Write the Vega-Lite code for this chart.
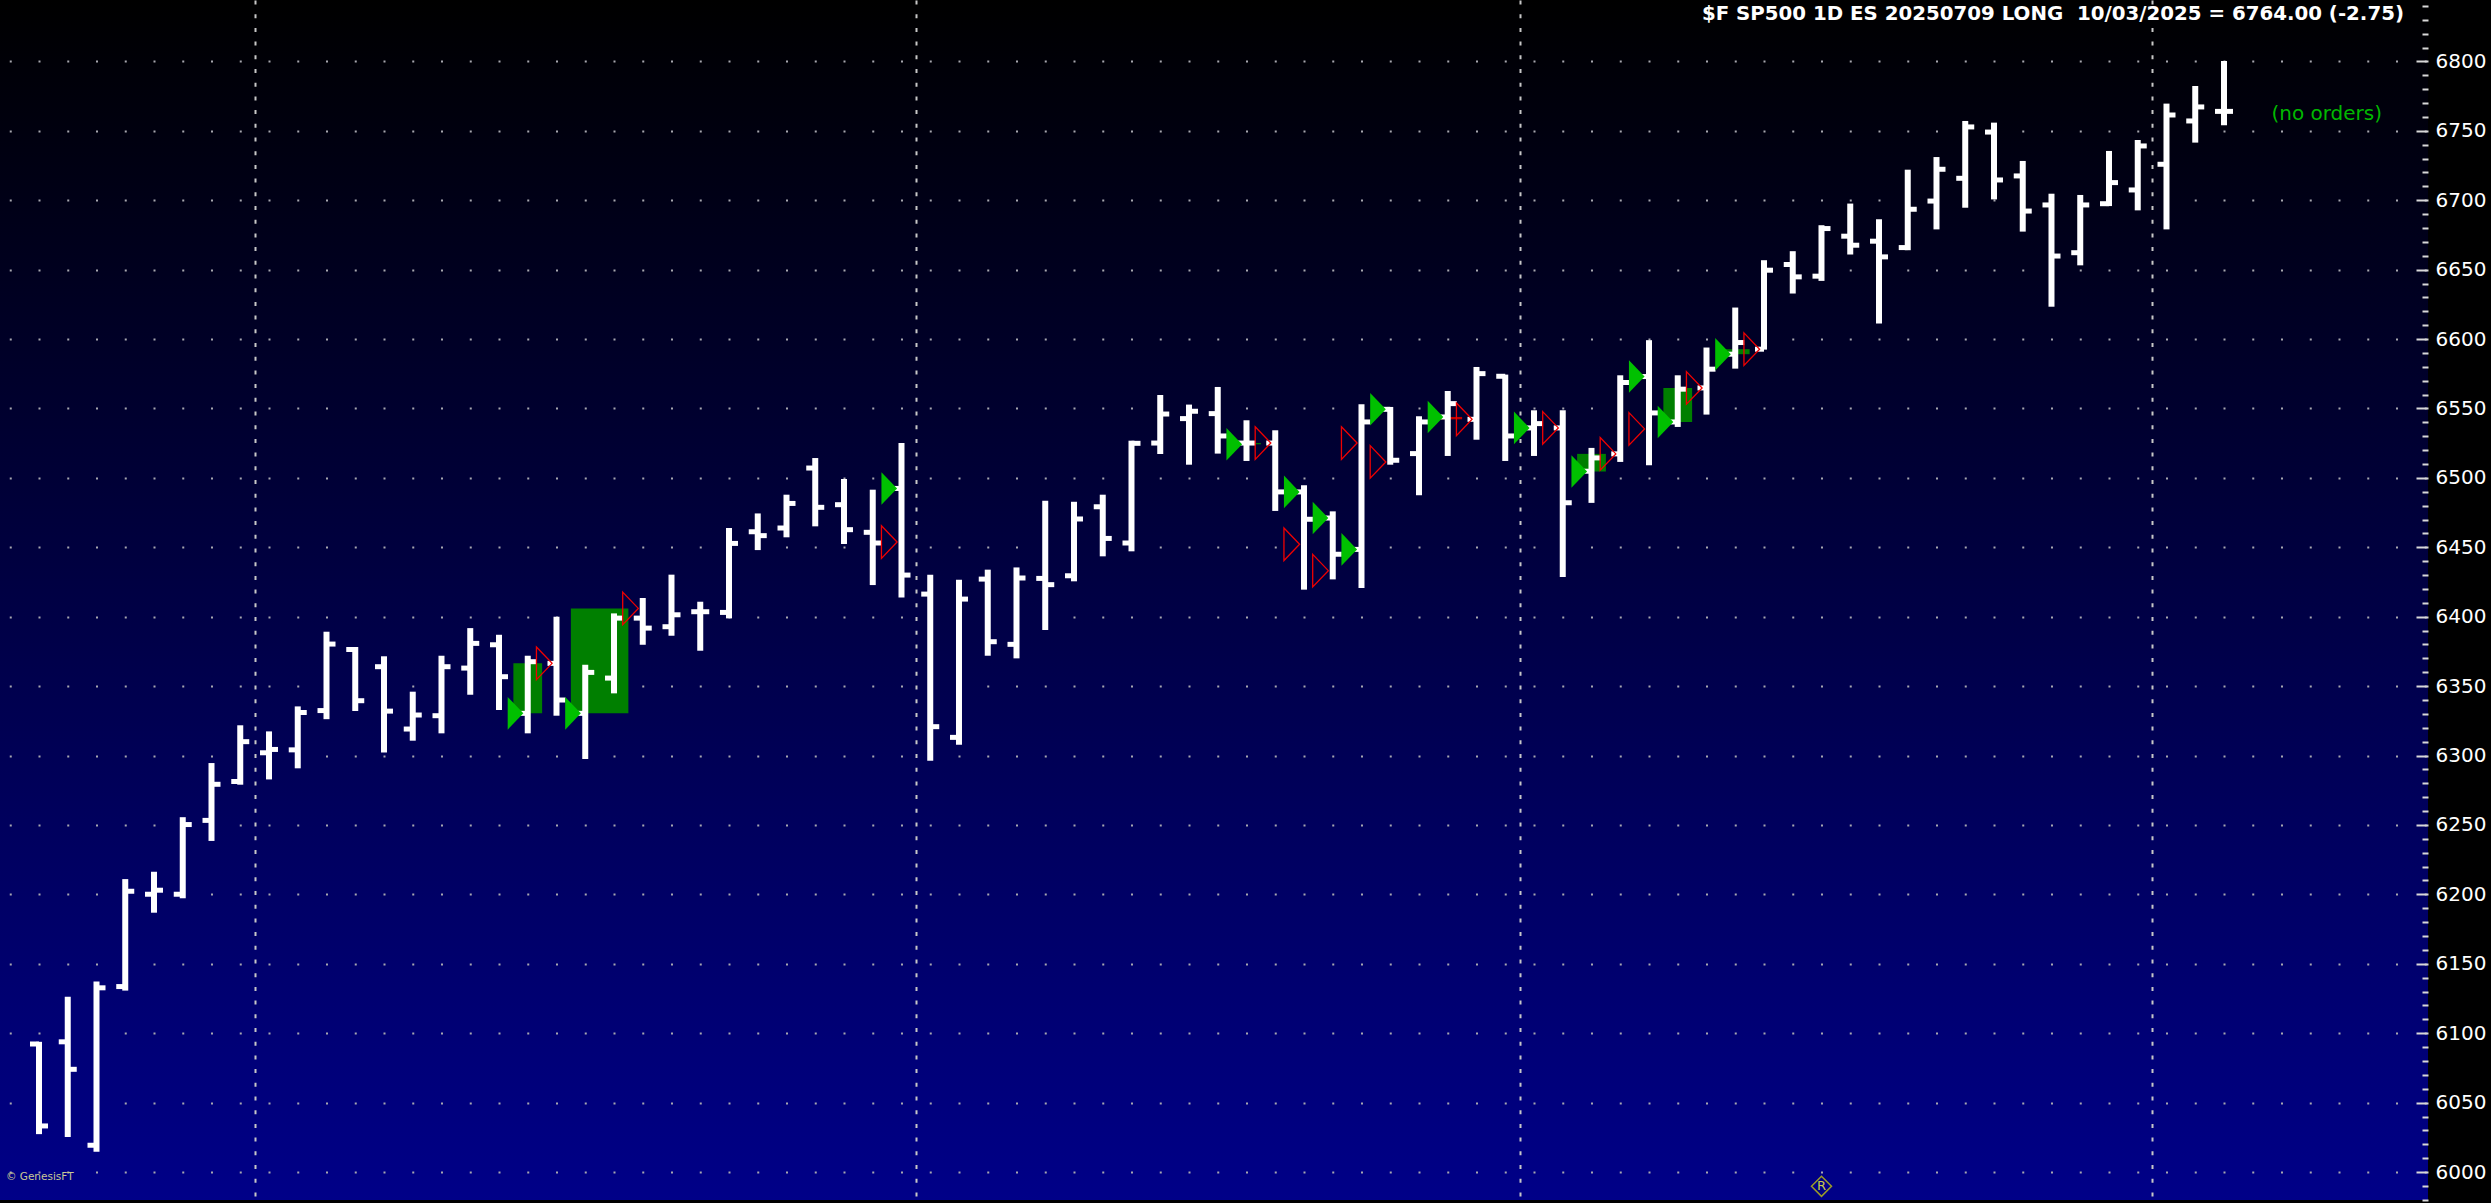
{
  "$schema": "https://vega.github.io/schema/vega-lite/v6.json",
  "width": 2428,
  "height": 1200,
  "autosize": {"type": "none"},
  "padding": {"left": 0, "top": 0, "right": 63, "bottom": 3},
  "background": "#000000",
  "resolve": {"axis": {"x": "independent", "y": "independent"}},
  "config": {
    "view": {
      "stroke": null,
      "fill": {
        "gradient": "linear",
        "x1": 0, "y1": 0, "x2": 0, "y2": 1,
        "stops": [
          {"offset": 0, "color": "#000000"},
          {"offset": 1, "color": "#000088"}
        ]
      }
    }
  },
  "datasets": {
    "ohlc": [
      {"i":0,"o":6092.3,"h":6093.8,"l":6027.3,"c":6033.2},
      {"i":1,"o":6093.8,"h":6126.3,"l":6025.2,"c":6074.0},
      {"i":2,"o":6019.3,"h":6137.2,"l":6014.6,"c":6132.7},
      {"i":3,"o":6133.6,"h":6211.0,"l":6130.7,"c":6202.2},
      {"i":4,"o":6200.1,"h":6216.3,"l":6186.8,"c":6203.0},
      {"i":5,"o":6200.1,"h":6255.6,"l":6197.2,"c":6250.3},
      {"i":6,"o":6253.3,"h":6294.6,"l":6238.5,"c":6279.3},
      {"i":7,"o":6281.3,"h":6321.8,"l":6279.0,"c":6310.0},
      {"i":8,"o":6302.0,"h":6317.4,"l":6282.8,"c":6304.4},
      {"i":9,"o":6304.1,"h":6335.4,"l":6290.8,"c":6331.0},
      {"i":10,"o":6332.4,"h":6389.2,"l":6326.2,"c":6380.3},
      {"i":11,"o":6376.4,"h":6378.2,"l":6332.1,"c":6339.5},
      {"i":12,"o":6364.0,"h":6371.5,"l":6302.2,"c":6332.0},
      {"i":13,"o":6319.1,"h":6346.0,"l":6310.7,"c":6329.2},
      {"i":14,"o":6328.7,"h":6371.9,"l":6316.0,"c":6364.0},
      {"i":15,"o":6363.0,"h":6391.8,"l":6343.8,"c":6380.8},
      {"i":16,"o":6379.8,"h":6387.0,"l":6332.8,"c":6356.8},
      {"i":17,"o":6330.4,"h":6371.9,"l":6316.0,"c":6367.6},
      {"i":18,"o":6366.4,"h":6400.0,"l":6328.7,"c":6340.0},
      {"i":19,"o":6330.4,"h":6365.4,"l":6297.5,"c":6359.9},
      {"i":20,"o":6355.8,"h":6402.4,"l":6344.8,"c":6399.0},
      {"i":21,"o":6399.0,"h":6413.5,"l":6379.8,"c":6391.8},
      {"i":22,"o":6392.8,"h":6430.3,"l":6386.3,"c":6401.4},
      {"i":23,"o":6403.6,"h":6410.8,"l":6375.5,"c":6403.6},
      {"i":24,"o":6403.1,"h":6463.9,"l":6398.8,"c":6452.8},
      {"i":25,"o":6461.2,"h":6474.4,"l":6448.0,"c":6458.4},
      {"i":26,"o":6463.9,"h":6487.9,"l":6457.2,"c":6481.6},
      {"i":27,"o":6507.1,"h":6514.3,"l":6465.1,"c":6478.8},
      {"i":28,"o":6480.7,"h":6499.2,"l":6452.4,"c":6462.7},
      {"i":29,"o":6460.8,"h":6491.5,"l":6422.8,"c":6453.1},
      {"i":30,"o":6492.4,"h":6525.1,"l":6413.9,"c":6430.0},
      {"i":31,"o":6416.3,"h":6430.3,"l":6296.3,"c":6320.8},
      {"i":32,"o":6313.1,"h":6426.7,"l":6307.8,"c":6412.7},
      {"i":33,"o":6427.1,"h":6433.9,"l":6371.9,"c":6382.0},
      {"i":34,"o":6380.1,"h":6435.5,"l":6370.0,"c":6427.9},
      {"i":35,"o":6427.6,"h":6483.6,"l":6390.4,"c":6423.1},
      {"i":36,"o":6429.5,"h":6482.8,"l":6425.5,"c":6470.4},
      {"i":37,"o":6479.2,"h":6487.9,"l":6443.5,"c":6456.4},
      {"i":38,"o":6453.1,"h":6526.8,"l":6447.1,"c":6524.9},
      {"i":39,"o":6525.1,"h":6559.7,"l":6517.2,"c":6546.0},
      {"i":40,"o":6542.7,"h":6552.8,"l":6509.5,"c":6548.0},
      {"i":41,"o":6546.3,"h":6565.5,"l":6517.5,"c":6530.2},
      {"i":42,"o":6525.1,"h":6541.5,"l":6512.2,"c":6525.1},
      {"i":43,"o":6525.1,"h":6534.3,"l":6476.2,"c":6489.9},
      {"i":44,"o":6489.9,"h":6494.7,"l":6419.5,"c":6470.2},
      {"i":45,"o":6471.1,"h":6475.9,"l":6426.9,"c":6445.0},
      {"i":46,"o":6448.5,"h":6553.0,"l":6420.7,"c":6540.3},
      {"i":47,"o":6549.4,"h":6551.1,"l":6509.5,"c":6512.7},
      {"i":48,"o":6517.5,"h":6544.4,"l":6487.5,"c":6540.3},
      {"i":49,"o":6543.9,"h":6562.6,"l":6515.8,"c":6553.5},
      {"i":50,"o":6542.2,"h":6579.9,"l":6527.5,"c":6575.1},
      {"i":51,"o":6573.2,"h":6574.4,"l":6512.2,"c":6530.2},
      {"i":52,"o":6536.0,"h":6548.7,"l":6515.8,"c":6539.1},
      {"i":53,"o":6536.0,"h":6548.7,"l":6428.6,"c":6482.1},
      {"i":54,"o":6504.8,"h":6521.6,"l":6482.0,"c":6514.4},
      {"i":55,"o":6517.3,"h":6573.9,"l":6511.5,"c":6568.7},
      {"i":56,"o":6573.0,"h":6599.2,"l":6509.1,"c":6546.8},
      {"i":57,"o":6540.3,"h":6573.9,"l":6536.7,"c":6563.9},
      {"i":58,"o":6564.8,"h":6593.9,"l":6545.6,"c":6578.3},
      {"i":59,"o":6589.1,"h":6622.7,"l":6578.7,"c":6597.5},
      {"i":60,"o":6592.7,"h":6656.8,"l":6592.4,"c":6649.6},
      {"i":61,"o":6653.7,"h":6663.3,"l":6632.8,"c":6644.8},
      {"i":62,"o":6645.3,"h":6682.0,"l":6641.9,"c":6679.6},
      {"i":63,"o":6674.1,"h":6697.6,"l":6660.9,"c":6667.6},
      {"i":64,"o":6670.5,"h":6686.3,"l":6611.2,"c":6659.2},
      {"i":65,"o":6665.9,"h":6722.0,"l":6664.0,"c":6693.5},
      {"i":66,"o":6699.4,"h":6731.1,"l":6679.0,"c":6722.3},
      {"i":67,"o":6715.8,"h":6757.1,"l":6694.6,"c":6752.8},
      {"i":68,"o":6749.1,"h":6755.9,"l":6700.6,"c":6714.6},
      {"i":69,"o":6717.5,"h":6728.3,"l":6677.4,"c":6692.2},
      {"i":70,"o":6696.6,"h":6704.7,"l":6623.3,"c":6659.8},
      {"i":71,"o":6662.2,"h":6703.8,"l":6653.1,"c":6696.6},
      {"i":72,"o":6697.5,"h":6735.5,"l":6695.8,"c":6712.7},
      {"i":73,"o":6707.4,"h":6743.4,"l":6692.7,"c":6739.1},
      {"i":74,"o":6725.9,"h":6769.6,"l":6679.0,"c":6761.4},
      {"i":75,"o":6757.1,"h":6782.3,"l":6741.5,"c":6767.2},
      {"i":76,"o":6764.0,"h":6800.3,"l":6754.0,"c":6764.0}
    ],
    "entries": [
      {"i":17,"p":6330.4},{"i":19,"p":6330.4},{"i":30,"p":6492.4},{"i":42,"p":6524.2},
      {"i":44,"p":6489.9},{"i":45,"p":6471.1},{"i":46,"p":6448.5},{"i":47,"p":6549.4},
      {"i":49,"p":6543.9},{"i":52,"p":6536.0},{"i":54,"p":6504.6},{"i":56,"p":6573.0},
      {"i":57,"p":6540.3},{"i":59,"p":6589.1}
    ],
    "exits": [
      {"i":18,"p":6366.4},{"i":21,"p":6406.0},{"i":30,"p":6453.8},{"i":43,"p":6525.1},
      {"i":44,"p":6452.2},{"i":45,"p":6433.2},{"i":46,"p":6525.1},{"i":47,"p":6511.5},
      {"i":50,"p":6542.2},{"i":53,"p":6536.0},{"i":55,"p":6517.3},{"i":56,"p":6535.3},
      {"i":58,"p":6564.8},{"i":60,"p":6592.7}
    ],
    "trades": [
      {"x1":16.5,"x2":17.5,"v1":6330.4,"v2":6366.4,"res":"win"},
      {"x1":18.5,"x2":20.5,"v1":6330.4,"v2":6406.0,"res":"win"},
      {"x1":41.5,"x2":42.5,"v1":6524.2,"v2":6525.1,"res":"win"},
      {"x1":48.5,"x2":49.5,"v1":6542.2,"v2":6543.9,"res":"loss"},
      {"x1":53.5,"x2":54.5,"v1":6504.6,"v2":6517.3,"res":"win"},
      {"x1":56.5,"x2":57.5,"v1":6540.3,"v2":6564.8,"res":"win"},
      {"x1":58.5,"x2":59.5,"v1":6589.1,"v2":6592.7,"res":"win"}
    ],
    "heading": [{"label":"$F SP500 1D ES 20250709 LONG \u00a010/03/2025 = 6764.00 (-2.75)","i":82.26,"p":6834.5}],
    "noorders": [{"label":"(no orders)","i":77.65,"p":6762}],
    "copyright": [{"label":"\u00a9 GenesisFT","i":-1.15,"p":5996.5}],
    "marker": [{"label":"R","i":62,"p":5989.7}]
  },
  "layer": [
    {
      "data": {"name": "ohlc"},
      "mark": {"type": "rule", "strokeWidth": 6, "color": "#FFFFFF", "opacity": 0},
      "encoding": {
        "x": {
          "field": "i", "type": "quantitative",
          "scale": {"domain": [-1.3565, 83.096], "nice": false, "zero": false},
          "axis": {
            "orient": "bottom",
            "values": [7.5, 30.5, 51.5, 73.5],
            "grid": true,
            "gridColor": "#C8C8C8",
            "gridWidth": 2,
            "gridDash": [4, 9.7],
            "labels": false,
            "ticks": false,
            "domain": false,
            "title": null
          }
        },
        "y": {
          "field": "l", "type": "quantitative",
          "scale": {"domain": [5979.86, 6844.23], "nice": false, "zero": false},
          "axis": {
            "orient": "right",
            "values": [5980,5990,6000,6010,6020,6030,6040,6050,6060,6070,6080,6090,6100,6110,6120,6130,6140,6150,6160,6170,6180,6190,6200,6210,6220,6230,6240,6250,6260,6270,6280,6290,6300,6310,6320,6330,6340,6350,6360,6370,6380,6390,6400,6410,6420,6430,6440,6450,6460,6470,6480,6490,6500,6510,6520,6530,6540,6550,6560,6570,6580,6590,6600,6610,6620,6630,6640,6650,6660,6670,6680,6690,6700,6710,6720,6730,6740,6750,6760,6770,6780,6790,6800,6810,6820,6830,6840],
            "format": "d",
            "labelExpr": "datum.value % 50 === 0 ? datum.label : ''",
            "labelFont": "DejaVu Sans",
            "labelFontSize": 20,
            "labelColor": "#FFFFFF",
            "labelPadding": 19,
            "labelOverlap": false,
            "labelFlush": false,
            "labelBound": false,
            "ticks": true,
            "tickColor": "#D8D8D8",
            "tickWidth": 2,
            "tickSize": {"condition": {"test": "datum.value % 50 === 0", "value": -12}, "value": -6},
            "domain": false,
            "grid": true,
            "gridColor": "#A8A8B0",
            "gridWidth": 2,
            "gridDash": [2, 26.75],
            "gridDashOffset": 27,
            "gridOpacity": {"condition": {"test": "datum.value % 50 === 0", "value": 1}, "value": 0},
            "title": null
          }
        },
        "y2": {"field": "h"}
      }
    },
    {
      "data": {"name": "trades"},
      "mark": {"type": "rect"},
      "encoding": {
        "x": {"field": "x1", "type": "quantitative", "scale": {"domain": [-1.3565, 83.096], "nice": false, "zero": false}, "axis": null},
        "x2": {"field": "x2"},
        "y": {"field": "v1", "type": "quantitative", "scale": {"domain": [5979.86, 6844.23], "nice": false, "zero": false}, "axis": null},
        "y2": {"field": "v2"},
        "color": {
          "field": "res", "type": "nominal",
          "scale": {"domain": ["win", "loss"], "range": ["#007F00", "#C00000"]},
          "legend": null
        }
      }
    },
    {
      "data": {"name": "ohlc"},
      "mark": {"type": "rule", "strokeWidth": 6, "color": "#FFFFFF"},
      "encoding": {
        "x": {"field": "i", "type": "quantitative", "scale": {"domain": [-1.3565, 83.096], "nice": false, "zero": false}, "axis": null},
        "y": {"field": "l", "type": "quantitative", "scale": {"domain": [5979.86, 6844.23], "nice": false, "zero": false}, "axis": null},
        "y2": {"field": "h"}
      }
    },
    {
      "data": {"name": "ohlc"},
      "mark": {"type": "tick", "orient": "horizontal", "size": 9, "thickness": 5, "xOffset": -4.5, "color": "#FFFFFF", "filled": true, "opacity": 1},
      "encoding": {
        "x": {"field": "i", "type": "quantitative", "scale": {"domain": [-1.3565, 83.096], "nice": false, "zero": false}, "axis": null},
        "y": {"field": "o", "type": "quantitative", "scale": {"domain": [5979.86, 6844.23], "nice": false, "zero": false}, "axis": null}
      }
    },
    {
      "data": {"name": "ohlc"},
      "mark": {"type": "tick", "orient": "horizontal", "size": 9, "thickness": 5, "xOffset": 4.5, "color": "#FFFFFF", "filled": true, "opacity": 1},
      "encoding": {
        "x": {"field": "i", "type": "quantitative", "scale": {"domain": [-1.3565, 83.096], "nice": false, "zero": false}, "axis": null},
        "y": {"field": "c", "type": "quantitative", "scale": {"domain": [5979.86, 6844.23], "nice": false, "zero": false}, "axis": null}
      }
    },
    {
      "data": {"name": "entries"},
      "mark": {"type": "point", "shape": "M-1.23,-1L-0.27,0L-1.23,1Z", "size": 1063, "filled": true, "color": "#00C000", "strokeWidth": 0, "opacity": 1},
      "encoding": {
        "x": {"field": "i", "type": "quantitative", "scale": {"domain": [-1.3565, 83.096], "nice": false, "zero": false}, "axis": null},
        "y": {"field": "p", "type": "quantitative", "scale": {"domain": [5979.86, 6844.23], "nice": false, "zero": false}, "axis": null}
      }
    },
    {
      "data": {"name": "exits"},
      "mark": {"type": "point", "shape": "M-1.23,-1L-0.27,0L-1.23,1Z", "size": 1063, "filled": false, "color": "#F00000", "strokeWidth": 1.3, "opacity": 1},
      "encoding": {
        "x": {"field": "i", "type": "quantitative", "scale": {"domain": [-1.3565, 83.096], "nice": false, "zero": false}, "axis": null},
        "y": {"field": "p", "type": "quantitative", "scale": {"domain": [5979.86, 6844.23], "nice": false, "zero": false}, "axis": null}
      }
    },
    {
      "data": {"name": "heading"},
      "mark": {"type": "text", "align": "right", "baseline": "middle", "font": "DejaVu Sans", "fontWeight": "bold", "fontSize": 19.8, "color": "#FFFFFF"},
      "encoding": {
        "x": {"field": "i", "type": "quantitative", "scale": {"domain": [-1.3565, 83.096], "nice": false, "zero": false}, "axis": null},
        "y": {"field": "p", "type": "quantitative", "scale": {"domain": [5979.86, 6844.23], "nice": false, "zero": false}, "axis": null},
        "text": {"field": "label"}
      }
    },
    {
      "data": {"name": "noorders"},
      "mark": {"type": "text", "align": "left", "baseline": "middle", "font": "DejaVu Sans", "fontSize": 20, "color": "#00B800"},
      "encoding": {
        "x": {"field": "i", "type": "quantitative", "scale": {"domain": [-1.3565, 83.096], "nice": false, "zero": false}, "axis": null},
        "y": {"field": "p", "type": "quantitative", "scale": {"domain": [5979.86, 6844.23], "nice": false, "zero": false}, "axis": null},
        "text": {"field": "label"}
      }
    },
    {
      "data": {"name": "copyright"},
      "mark": {"type": "text", "align": "left", "baseline": "middle", "font": "DejaVu Sans", "fontSize": 10.5, "color": "#C8C896"},
      "encoding": {
        "x": {"field": "i", "type": "quantitative", "scale": {"domain": [-1.3565, 83.096], "nice": false, "zero": false}, "axis": null},
        "y": {"field": "p", "type": "quantitative", "scale": {"domain": [5979.86, 6844.23], "nice": false, "zero": false}, "axis": null},
        "text": {"field": "label"}
      }
    },
    {
      "data": {"name": "marker"},
      "mark": {"type": "point", "shape": "diamond", "size": 400, "filled": false, "color": "#9C9C28", "strokeWidth": 1.5, "opacity": 1},
      "encoding": {
        "x": {"field": "i", "type": "quantitative", "scale": {"domain": [-1.3565, 83.096], "nice": false, "zero": false}, "axis": null},
        "y": {"field": "p", "type": "quantitative", "scale": {"domain": [5979.86, 6844.23], "nice": false, "zero": false}, "axis": null}
      }
    },
    {
      "data": {"name": "marker"},
      "mark": {"type": "text", "align": "center", "baseline": "middle", "font": "DejaVu Sans", "fontSize": 13, "color": "#C8C850"},
      "encoding": {
        "x": {"field": "i", "type": "quantitative", "scale": {"domain": [-1.3565, 83.096], "nice": false, "zero": false}, "axis": null},
        "y": {"field": "p", "type": "quantitative", "scale": {"domain": [5979.86, 6844.23], "nice": false, "zero": false}, "axis": null},
        "text": {"field": "label"}
      }
    }
  ]
}
